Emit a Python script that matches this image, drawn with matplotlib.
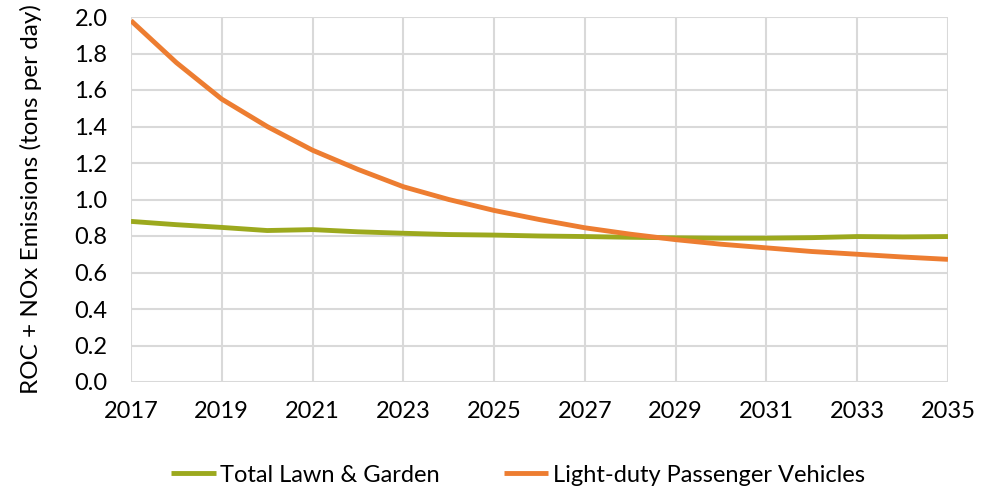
import matplotlib
matplotlib.use("Agg")
import matplotlib.pyplot as plt

years = list(range(2017, 2036))
lawn_garden = [0.88, 0.862, 0.847, 0.83, 0.835, 0.823, 0.815, 0.808, 0.805, 0.800,
               0.797, 0.793, 0.790, 0.788, 0.788, 0.791, 0.797, 0.795, 0.797]
ldv = [1.98, 1.75, 1.55, 1.40, 1.27, 1.165, 1.07, 1.00, 0.94, 0.89,
       0.845, 0.81, 0.78, 0.755, 0.735, 0.715, 0.70, 0.685, 0.672]
xticks = list(range(2017, 2036, 2))
yticks = [i / 5 for i in range(11)]

plt.rcParams['font.family'] = ['Lato', 'DejaVu Sans']

fig = plt.figure(figsize=(9.96, 4.91), dpi=100)
ax = fig.add_axes([131/996, 1 - 382/491, (948-131)/996, (382-17)/491])

ax.plot(years, lawn_garden, color='#9CA91E', lw=3.5, label='Total Lawn & Garden', solid_capstyle='butt')
ax.plot(years, ldv, color='#ED7D31', lw=3.5, label='Light-duty Passenger Vehicles', solid_capstyle='butt')

ax.set_xlim(2017, 2035)
ax.set_ylim(0, 2.0)
ax.set_xticks(xticks)
ax.set_yticks(yticks)
ax.set_yticklabels([f"{v:.1f}" for v in yticks])
ax.grid(True, color='#D9D9D9', lw=1.5)
ax.set_axisbelow(True)
for s in ax.spines.values():
    s.set_visible(False)
ax.tick_params(axis='both', length=0, labelsize=17, colors='black')
ax.tick_params(axis='x', pad=14)
ax.tick_params(axis='y', pad=17)
ax.set_ylabel('ROC + NOx Emissions (tons per day)', fontsize=17.5)
ax.yaxis.set_label_coords(-(131 - 42) / (948 - 131), 0.5)

fig.legend(loc='center', bbox_to_anchor=(0.52, 1 - 475/491), ncol=2, frameon=False,
           fontsize=17, handlelength=1.9, columnspacing=2.7, handletextpad=0.2)

fig.savefig('out.png', dpi=100)
